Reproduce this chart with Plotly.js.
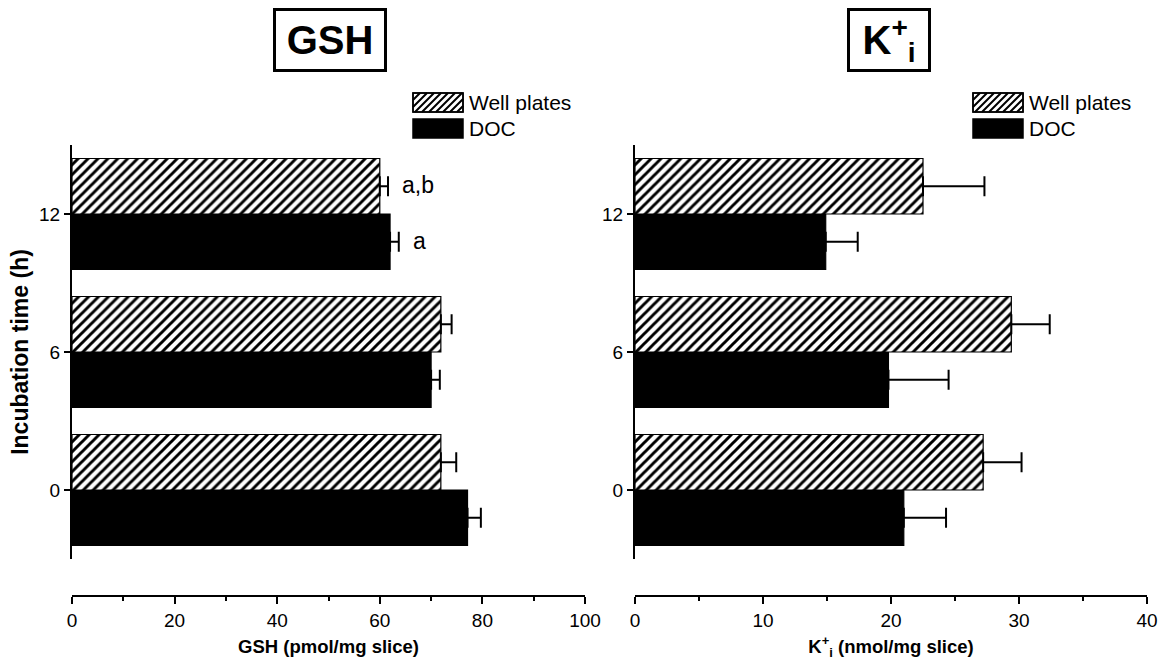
<!DOCTYPE html>
<html>
<head>
<meta charset="utf-8">
<script src="https://cdn.plot.ly/plotly-3.0.1.min.js"></script>
<style>html,body{margin:0;padding:0;background:#fff;}#chart{width:1162px;height:664px;}</style>
</head>
<body>
<div id="chart"></div>
<script>
// ---- data ----
var categories = ['0', '6', '12'];
var seriesNames = ['Well plates', 'DOC'];
var gshWell = [71.9, 71.9, 60.0];
var gshWellErr = [3.0, 2.1, 1.6];
var gshDoc = [77.1, 70.0, 62.0];
var gshDocErr = [2.6, 1.7, 1.7];
var kWell = [27.2, 29.4, 22.5];
var kWellErr = [3.0, 3.0, 4.8];
var kDoc = [21.0, 19.8, 14.9];
var kDocErr = [3.3, 4.7, 2.5];
var gshWellLetters = ['', '', 'a,b'];
var gshDocLetters = ['', '', 'a'];

// ---- layout helpers ----
var W = 1162, H = 664;
var M = {l: 72, r: 15, t: 145, b: 68};
var PW = W - M.l - M.r, PH = H - M.t - M.b;
function px(x) { return (x - M.l) / PW; }
function py(y) { return (H - M.b - y) / PH; }

var FONT = 'Arial, "Liberation Sans", sans-serif';
var hatch = {shape: '/', fgcolor: '#000', bgcolor: '#fff', size: 7, solidity: 0.42, fillmode: 'replace'};
var zeros = [0, 0, 0];

function barTrace(vals, errs, name, xa, ya, hatched) {
  return {
    type: 'bar', orientation: 'h', name: name,
    y: categories, x: vals, xaxis: xa, yaxis: ya,
    marker: hatched ? {color: '#fff', pattern: hatch, line: {color: '#000', width: 1.2}}
                    : {color: '#000', line: {color: '#000', width: 1.2}},
    error_x: {type: 'data', array: errs, arrayminus: zeros, symmetric: false,
              color: '#000', thickness: 2, width: 10},
    showlegend: false, cliponaxis: false
  };
}

var data = [
  barTrace(gshDoc, gshDocErr, seriesNames[1], 'x', 'y', false),
  barTrace(gshWell, gshWellErr, seriesNames[0], 'x', 'y', true),
  barTrace(kDoc, kDocErr, seriesNames[1], 'x2', 'y2', false),
  barTrace(kWell, kWellErr, seriesNames[0], 'x2', 'y2', true)
];

var yDomBottom = (H - M.b - 559) / PH;
var tickFont = {family: FONT, size: 19, color: '#000'};
function xAxis(dom, range, dtick, title) {
  return {
    domain: dom, range: range, anchor: 'free', position: 0,
    showline: true, linewidth: 2, linecolor: '#000',
    ticks: 'outside', ticklen: 7, tickwidth: 2, tickcolor: '#000', dtick: dtick, tick0: 0,
    minor: {dtick: dtick / 2, tick0: 0, ticks: 'outside', ticklen: 4, tickwidth: 2, tickcolor: '#000'},
    showgrid: false, zeroline: false, tickfont: tickFont,
    title: {text: title, font: {family: FONT, size: 18.5, color: '#000', weight: 'bold'}, standoff: 9},
    fixedrange: true
  };
}
function yAxis(anchor, title) {
  var a = {
    domain: [yDomBottom, 1], anchor: anchor, type: 'category',
    categoryorder: 'array', categoryarray: categories, range: [-0.5, 2.5],
    showline: true, linewidth: 2, linecolor: '#000',
    ticks: 'outside', ticklen: 6, tickwidth: 2, tickcolor: '#000',
    showgrid: false, zeroline: false, tickfont: tickFont, fixedrange: true
  };
  if (title) a.title = {text: title, font: {family: FONT, size: 23, color: '#000', weight: 'bold'}, standoff: 4};
  return a;
}

var annotations = [];
var shapes = [];

// panel titles (boxed)
function boxTitle(text, cx, w) {
  annotations.push({
    xref: 'paper', yref: 'paper', x: px(cx), y: py(40), xanchor: 'center', yanchor: 'middle',
    text: text, showarrow: false, width: w, height: 58, borderpad: 0,
    bordercolor: '#000', borderwidth: 3, bgcolor: '#fff',
    font: {family: FONT, size: 40, color: '#000', weight: 'bold'}
  });
}
boxTitle('GSH', 330, 108);
boxTitle('K<sup>+</sup><sub>i</sub>', 889, 78);

// significance letters (category axes take the category index)
function letters(vals, errs, labels, xa, ya, shift) {
  for (var i = 0; i < categories.length; i++) {
    if (!labels[i]) continue;
    annotations.push({
      xref: xa, yref: ya, x: vals[i] + errs[i], y: i, xanchor: 'left', yanchor: 'middle',
      xshift: 12, yshift: shift, text: labels[i], showarrow: false,
      font: {family: FONT, size: 23, color: '#000'}
    });
  }
}
letters(gshWell, gshWellErr, gshWellLetters, 'x', 'y', 29);
letters(gshDoc, gshDocErr, gshDocLetters, 'x', 'y', -27);

// legends (built from shapes + text)
function legend(x0) {
  var top1 = 93, top2 = 119, sw = 50, sh = 19;
  shapes.push({type: 'rect', xref: 'paper', yref: 'paper', x0: px(x0), x1: px(x0 + sw), y0: py(top1 + sh), y1: py(top1),
               fillcolor: '#fff', line: {color: '#000', width: 1.5}});
  var path = '';
  var bottom = top1 + sh;
  for (var c = x0 - sh; c < x0 + sw; c += 7) {
    var xa = Math.max(x0, c), xb = Math.min(x0 + sw, c + sh);
    if (xb <= xa) continue;
    path += 'M' + px(xa) + ',' + py(bottom - (xa - c)) + 'L' + px(xb) + ',' + py(bottom - (xb - c));
  }
  shapes.push({type: 'path', xref: 'paper', yref: 'paper', path: path, line: {color: '#000', width: 2}});
  shapes.push({type: 'rect', xref: 'paper', yref: 'paper', x0: px(x0), x1: px(x0 + sw), y0: py(top1 + sh), y1: py(top1),
               line: {color: '#000', width: 1.5}});
  shapes.push({type: 'rect', xref: 'paper', yref: 'paper', x0: px(x0), x1: px(x0 + sw), y0: py(top2 + sh), y1: py(top2),
               fillcolor: '#000', line: {color: '#000', width: 1.5}});
  annotations.push({xref: 'paper', yref: 'paper', x: px(x0 + sw + 4), y: py(top1 + sh / 2), xanchor: 'left', yanchor: 'middle',
                    text: seriesNames[0], showarrow: false, font: {family: FONT, size: 21, color: '#000'}});
  annotations.push({xref: 'paper', yref: 'paper', x: px(x0 + sw + 4), y: py(top2 + sh / 2), xanchor: 'left', yanchor: 'middle',
                    text: seriesNames[1], showarrow: false, font: {family: FONT, size: 21, color: '#000'}});
}
legend(413);
legend(973);

var layout = {
  width: W, height: H, margin: M,
  paper_bgcolor: '#fff', plot_bgcolor: 'rgba(0,0,0,0)',
  barmode: 'group', bargap: 0.196, bargroupgap: 0,
  showlegend: false,
  font: {family: FONT, color: '#000'},
  xaxis: xAxis([0, px(585)], [0, 100], 20, 'GSH (pmol/mg slice)'),
  yaxis: yAxis('x', 'Incubation time (h)'),
  xaxis2: xAxis([px(635), 1], [0, 40], 10, 'K<sup>+</sup><sub>i</sub> (nmol/mg slice)'),
  yaxis2: yAxis('x2', null),
  annotations: annotations,
  shapes: shapes
};

Plotly.newPlot('chart', data, layout, {displayModeBar: false, staticPlot: true});
</script>
</body>
</html>
